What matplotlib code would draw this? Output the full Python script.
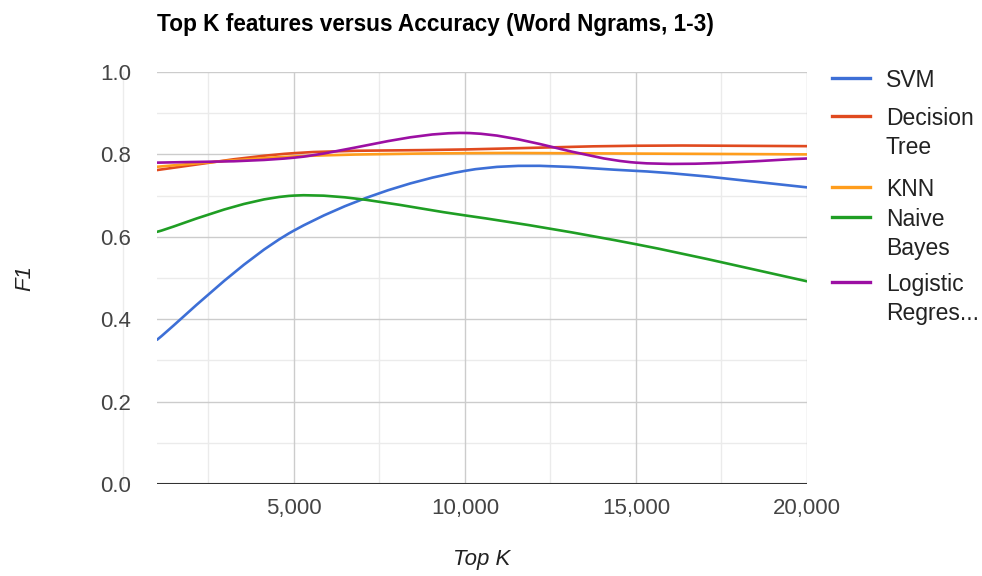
import numpy as np
import matplotlib.pyplot as plt
from matplotlib.path import Path
from matplotlib.patches import PathPatch
from matplotlib.lines import Line2D
from matplotlib.ticker import FuncFormatter, MultipleLocator

plt.rcParams['font.family'] = ['Liberation Sans', 'DejaVu Sans']

# Data
top_k = [1000, 5000, 10000, 15000, 20000]
svm = [0.35, 0.615, 0.76, 0.76, 0.72]
decision_tree = [0.762, 0.803, 0.812, 0.821, 0.82]
knn = [0.77, 0.795, 0.803, 0.802, 0.80]
naive_bayes = [0.612, 0.70, 0.652, 0.582, 0.492]
logistic = [0.78, 0.792, 0.852, 0.78, 0.79]

series = [
    ("SVM", svm, "#3d6fd6"),
    ("Decision\nTree", decision_tree, "#e04a1f"),
    ("KNN", knn, "#ff9d1c"),
    ("Naive\nBayes", naive_bayes, "#1f9e24"),
    ("Logistic\nRegres...", logistic, "#9c0fa3"),
]


def smooth_path(xs, ys, t=1/6):
    # catmull-rom style bezier through the data points
    pts = np.column_stack([xs, ys]).astype(float)
    ext = np.vstack([pts[0], pts, pts[-1]])
    verts = [pts[0]]
    codes = [Path.MOVETO]
    for i in range(len(pts) - 1):
        p0, p1, p2, p3 = ext[i], ext[i + 1], ext[i + 2], ext[i + 3]
        verts += [p1 + (p2 - p0) * t, p2 - (p3 - p1) * t, p2]
        codes += [Path.CURVE4] * 3
    return Path(verts, codes)


W, H = 982, 576
fig = plt.figure(figsize=(W / 100, H / 100), dpi=100)
ax = fig.add_axes([157/W, 92/H, 650/W, 412/H])

ax.set_xlim(1000, 20000)
ax.set_ylim(0, 1)

# grid
for x in [2500, 7500, 12500, 17500]:
    ax.axvline(x, color="#ebebeb", lw=1, zorder=0)
for x in [5000, 10000, 15000, 20000]:
    ax.axvline(x, color="#cccccc", lw=1, zorder=1)
for y in np.arange(0.1, 1.0, 0.2):
    ax.axhline(y, color="#ebebeb", lw=1, zorder=0, xmin=-0.004)
for y in np.arange(0.2, 1.01, 0.2):
    ax.axhline(y, color="#cccccc", lw=1, zorder=1, xmin=-0.004)
ax.axhline(0, color="#333333", lw=1.5, zorder=3, xmin=-0.004)
# stray minor gridline at x=0 drawn outside the plot area
ax.plot([0, 0], [0, 1], color="#ececec", lw=1, zorder=0, clip_on=False)

for label, vals, color in series:
    patch = PathPatch(smooth_path(top_k, vals), facecolor="none", edgecolor=color,
                      lw=1.9, zorder=4, capstyle="round")
    ax.add_patch(patch)

for s in ax.spines.values():
    s.set_visible(False)
ax.set_xticks([5000, 10000, 15000, 20000])
ax.xaxis.set_major_formatter(FuncFormatter(lambda v, p: f"{int(v):,}"))
ax.yaxis.set_major_locator(MultipleLocator(0.2))
ax.yaxis.set_major_formatter(FuncFormatter(lambda v, p: f"{v:.1f}"))
ax.tick_params(length=0, labelsize=16, colors="#444444")
ax.tick_params(axis="y", pad=18.5)
ax.tick_params(axis="x", pad=10)

ax.set_xlabel("Top K", fontsize=16, style="italic", color="#222222", va="center")
ax.xaxis.set_label_coords(0.5, (H - 560 - 92) / 412)
ax.set_ylabel("F1", fontsize=16, style="italic", color="#222222", va="center")
ax.yaxis.set_label_coords((25 - 157) / 650, 0.5)

fig.text(157/W, 1 - 24/H, "Top K features versus Accuracy (Word Ngrams, 1-3)",
         fontsize=16.3, fontweight="bold", color="#000000", va="center", ha="left")

# legend
leg_rows = [78, 116, 187, 217, 282]
for (label, vals, color), yp in zip(series, leg_rows):
    yf = 1 - yp / H
    fig.add_artist(Line2D([832/W, 870/W], [yf, yf], color=color, lw=2.4,
                          transform=fig.transFigure))
    for j, line in enumerate(label.split("\n")):
        fig.text(886/W, 1 - (yp + 29 * j) / H, line, fontsize=16.5,
                 color="#222222", va="center_baseline", ha="left")

fig.savefig("out.png", dpi=100)
